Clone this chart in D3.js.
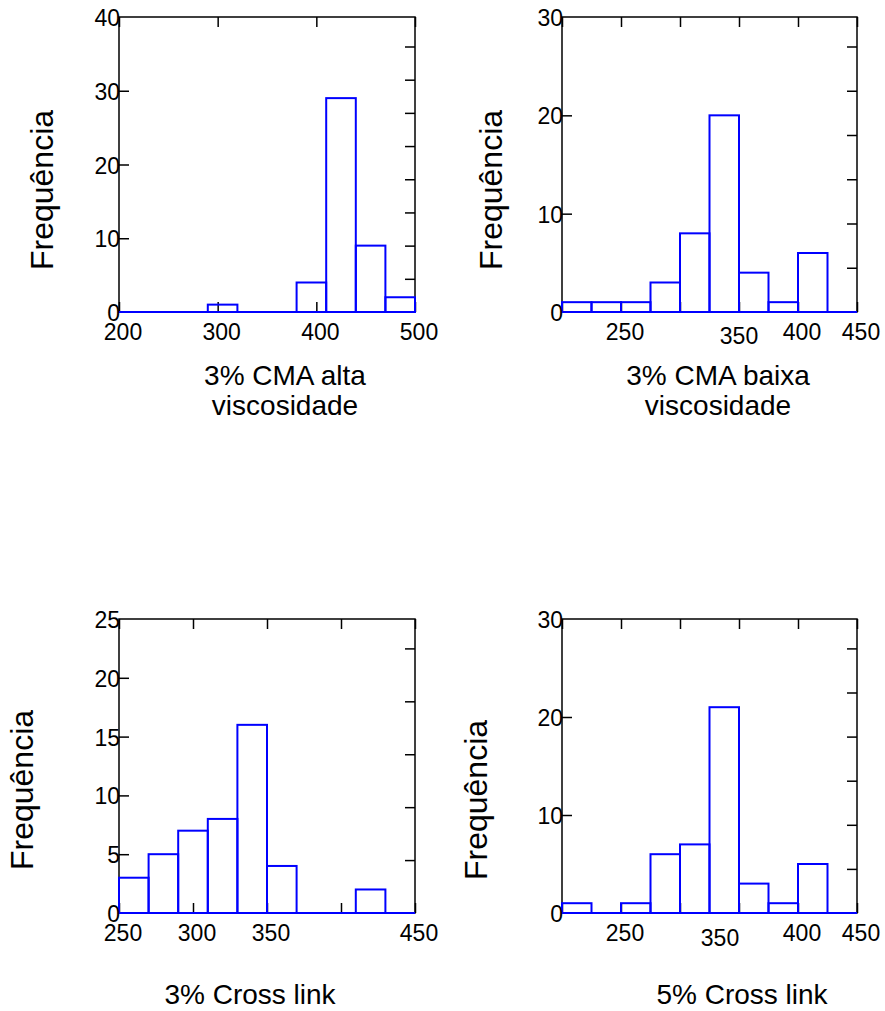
<!DOCTYPE html>
<html>
<head>
<meta charset="utf-8">
<script src="https://cdn.jsdelivr.net/npm/d3@7"></script>
<style>
  body { margin: 0; background: #fff; }
  svg text { font-family: "Liberation Sans", Arial, sans-serif; fill: #000; }
</style>
</head>
<body>
<div id="viz"></div>
<script>
// ===== DATA =====
// bin edges (last edge closes the final bar)
const altaEdges   = [200, 230, 260, 290, 320, 350, 380, 410, 440, 470, 500];
const baixaEdges  = [200, 225, 250, 275, 300, 325, 350, 375, 400, 425, 450];
const cross3Edges = [250, 270, 290, 310, 330, 350, 370, 390, 410, 430, 450];
const cross5Edges = [200, 225, 250, 275, 300, 325, 350, 375, 400, 425, 450];

// counts per bin
const altaCounts   = [0, 0, 0, 1, 0, 0, 4, 29, 9, 2];
const baixaCounts  = [1, 1, 1, 3, 8, 20, 4, 1, 6, 0];
const cross3Counts = [3, 5, 7, 8, 16, 4, 0, 0, 2, 0];
const cross5Counts = [1, 0, 1, 6, 7, 21, 3, 1, 5, 0];

// axis ticks and the labels that are actually printed
const altaXTicks   = [200, 300, 400, 500];
const altaXLabels  = [200, 300, 400, 500];
const baixaXTicks  = [200, 250, 300, 350, 400, 450];
const baixaXLabels = [250, 350, 400, 450];
const cross3XTicks = [250, 300, 350, 400, 450];
const cross3XLabels = [250, 300, 350, 450];
const cross5XTicks = [200, 250, 300, 350, 400, 450];
const cross5XLabels = [250, 350, 400, 450];

const altaYTicks   = [0, 10, 20, 30, 40];
const baixaYTicks  = [0, 10, 20, 30];
const cross3YTicks = [0, 5, 10, 15, 20, 25];
const cross5YTicks = [0, 10, 20, 30];

// right axis: proportion of the sample, tick every 10%
const proportionTicks = [0.1, 0.2, 0.3, 0.4, 0.5, 0.6, 0.7, 0.8, 0.9];

const yTitle = 'Frequência';
const titles = [
  ['3% CMA alta', 'viscosidade'],
  ['3% CMA baixa', 'viscosidade'],
  ['3% Cross link'],
  ['5% Cross link'],
];

// ===== LAYOUT =====
const width = 885, height = 1011;
const tickLen = 10;
const blue = '#0000ff';

const panels = [
  { edges: altaEdges, counts: altaCounts, xTicks: altaXTicks, xLabels: altaXLabels,
    yTicks: altaYTicks, title: titles[0],
    box: { left: 119, right: 415, top: 17, bottom: 312 },
    labelNudge: {}, titleX: 285, titleY: 385, yTitleX: 42, yTitleY: 190 },
  { edges: baixaEdges, counts: baixaCounts, xTicks: baixaXTicks, xLabels: baixaXLabels,
    yTicks: baixaYTicks, title: titles[1],
    box: { left: 562, right: 857, top: 17, bottom: 312 },
    labelNudge: { 350: [-4, 4] }, titleX: 718, titleY: 385, yTitleX: 491, yTitleY: 190 },
  { edges: cross3Edges, counts: cross3Counts, xTicks: cross3XTicks, xLabels: cross3XLabels,
    yTicks: cross3YTicks, title: titles[2],
    box: { left: 119, right: 415, top: 619, bottom: 913 },
    labelNudge: {}, titleX: 250, titleY: 1004, yTitleX: 22, yTitleY: 790 },
  { edges: cross5Edges, counts: cross5Counts, xTicks: cross5XTicks, xLabels: cross5XLabels,
    yTicks: cross5YTicks, title: titles[3],
    box: { left: 562, right: 857, top: 619, bottom: 913 },
    labelNudge: { 350: [-23, 5] }, titleX: 742, titleY: 1004, yTitleX: 476, yTitleY: 800 },
];

// ===== CANVAS =====
const svg = d3.select('#viz')
  .append('svg')
    .attr('width', width)
    .attr('height', height);

function drawPanel(p) {
  const b = p.box;
  const g = svg.append('g');
  const total = d3.sum(p.counts);
  const yMax = d3.max(p.yTicks);

  const xScale = d3.scaleLinear()
    .domain(d3.extent(p.edges))
    .range([b.left, b.right]);
  const yScale = d3.scaleLinear()
    .domain([0, yMax])
    .range([b.bottom, b.top]);
  const pScale = d3.scaleLinear()
    .domain([0, yMax / total])
    .range([b.bottom, b.top]);

  // frame
  g.append('rect')
    .attr('x', b.left).attr('y', b.top)
    .attr('width', b.right - b.left).attr('height', b.bottom - b.top)
    .attr('fill', 'none').attr('stroke', '#000').attr('stroke-width', 1.5);

  // inward ticks: bottom + top on x, left on y, right = proportion
  const xIn = d3.axisTop(xScale).tickValues(p.xTicks).tickSize(tickLen).tickFormat('');
  g.append('g').attr('transform', `translate(0,${b.bottom})`).call(xIn);
  const xTop = d3.axisBottom(xScale).tickValues(p.xTicks).tickSize(tickLen).tickFormat('');
  g.append('g').attr('transform', `translate(0,${b.top})`).call(xTop);
  const yIn = d3.axisRight(yScale).tickValues(p.yTicks.filter(v => v > 0 && v < yMax))
    .tickSize(tickLen).tickFormat('');
  g.append('g').attr('transform', `translate(${b.left},0)`).call(yIn);
  const pIn = d3.axisLeft(pScale).tickValues(proportionTicks.filter(v => pScale(v) > b.top + 2))
    .tickSize(tickLen).tickFormat('');
  g.append('g').attr('transform', `translate(${b.right},0)`).call(pIn);
  g.selectAll('.domain').remove();
  g.selectAll('.tick line').attr('stroke', '#000').attr('stroke-width', 1.5);

  // bars
  const bins = p.counts.map((c, i) => ({ x0: p.edges[i], x1: p.edges[i + 1], n: c }));
  g.append('line')
    .attr('x1', b.left).attr('x2', b.right)
    .attr('y1', b.bottom).attr('y2', b.bottom)
    .attr('stroke', blue).attr('stroke-width', 2);
  g.selectAll('rect.bar')
    .data(bins.filter(d => d.n > 0))
    .join('rect')
      .attr('class', 'bar')
      .attr('x', d => xScale(d.x0))
      .attr('y', d => yScale(d.n))
      .attr('width', d => xScale(d.x1) - xScale(d.x0))
      .attr('height', d => yScale(0) - yScale(d.n))
      .attr('fill', 'none')
      .attr('stroke', blue)
      .attr('stroke-width', 2);

  // tick labels
  g.selectAll('text.xl')
    .data(p.xLabels)
    .join('text')
      .attr('class', 'xl')
      .attr('x', d => xScale(d) + 4 + (p.labelNudge[d] ? p.labelNudge[d][0] : 0))
      .attr('y', d => b.bottom + 28 + (p.labelNudge[d] ? p.labelNudge[d][1] : 0))
      .attr('text-anchor', 'middle')
      .attr('font-size', 23)
      .text(d => d);
  g.selectAll('text.yl')
    .data(p.yTicks)
    .join('text')
      .attr('class', 'yl')
      .attr('x', b.left + 1)
      .attr('y', d => yScale(d) + 9)
      .attr('text-anchor', 'end')
      .attr('font-size', 23)
      .text(d => d);

  // axis titles
  g.append('text')
    .attr('transform', `translate(${p.yTitleX},${p.yTitleY}) rotate(-90)`)
    .attr('text-anchor', 'middle')
    .attr('dy', '0.35em')
    .attr('font-size', 32)
    .text(yTitle);
  g.selectAll('text.title')
    .data(p.title)
    .join('text')
      .attr('class', 'title')
      .attr('x', p.titleX)
      .attr('y', (d, i) => p.titleY + i * 30)
      .attr('text-anchor', 'middle')
      .attr('font-size', 28)
      .text(d => d);
}

panels.forEach(drawPanel);
</script>
</body>
</html>
